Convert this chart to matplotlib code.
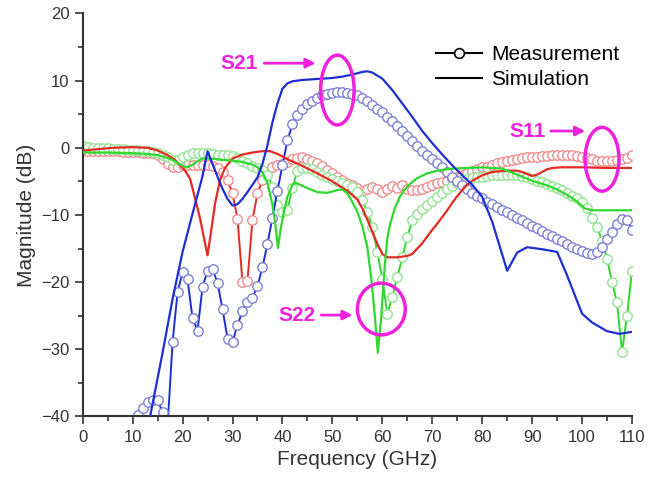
import numpy as np
import matplotlib
matplotlib.use('Agg')
import matplotlib.pyplot as plt
from matplotlib.lines import Line2D
from matplotlib.patches import Ellipse

plt.rcParams['font.family'] = ['Liberation Sans', 'DejaVu Sans']

# measured data, 1 GHz step
meas_freq = np.arange(0, 111)
s21_meas_freq = np.arange(11, 111)

s11_meas = [
    -0.5, -0.5, -0.5, -0.5, -0.5, -0.5, -0.5, -0.5, -0.6, -0.6,
    -0.6, -0.6, -0.7, -0.7, -0.8, -1.0, -1.7, -2.4, -2.8, -2.9,
    -2.6, -2.5, -2.6, -2.6, -2.6, -2.6, -2.7, -3.0, -3.6, -4.8,
    -6.8, -10.6, -20.0, -19.8, -10.7, -6.8, -4.8, -3.6, -2.8, -2.5,
    -2.4, -2.1, -1.7, -1.5, -1.4, -1.6, -1.9, -2.3, -2.7, -3.3,
    -3.8, -4.3, -4.8, -5.2, -5.6, -6.0, -6.5, -6.2, -5.8, -6.1,
    -6.6, -6.2, -5.7, -6.0, -5.6, -6.1, -6.3, -6.3, -6.1, -5.8,
    -5.5, -5.3, -5.1, -4.9, -4.6, -4.3, -4.0, -3.7, -3.4, -3.2,
    -2.9, -2.8, -2.5, -2.3, -2.1, -1.9, -1.8, -1.7, -1.5, -1.4,
    -1.3, -1.3, -1.2, -1.2, -1.1, -1.1, -1.0, -1.0, -1.1, -1.2,
    -1.3, -1.5, -1.7, -1.9, -2.0, -1.9, -1.9, -1.8, -1.7, -1.5,
    -1.1]

s22_meas = [
    0.2, 0.1, 0.0, 0.0, -0.1, -0.1, -0.2, -0.2, -0.2, -0.3,
    -0.3, -0.3, -0.4, -0.5, -0.6, -0.8, -1.0, -1.4, -1.8, -1.8,
    -1.4, -1.0, -0.8, -0.7, -0.7, -0.8, -0.9, -1.0, -1.0, -1.1,
    -1.2, -1.5, -1.9, -2.3, -2.7, -3.0, -3.3, -4.0, -5.8, -8.5,
    -9.5, -9.2, -6.0, -3.4, -3.0, -3.0, -3.2, -3.6, -4.0, -4.3,
    -4.6, -4.9, -5.2, -5.5, -5.9, -6.6, -7.8, -9.6, -11.8, -15.5,
    -19.5, -24.7, -22.2, -19.3, -16.3, -13.3, -10.8, -9.8, -9.1, -8.5,
    -7.9, -7.3, -6.8, -6.2, -5.7, -5.3, -4.9, -4.7, -4.5, -4.4,
    -4.3, -4.2, -4.1, -4.1, -4.0, -4.0, -4.0, -4.1, -4.2, -4.4,
    -4.6, -4.9, -5.1, -5.4, -5.7, -6.0, -6.3, -6.7, -7.1, -7.5,
    -8.1, -9.0, -10.4, -11.8, -13.8, -16.5, -20.0, -23.0, -30.4, -25.0,
    -18.3]

s21_meas = [
    -39.8, -38.7, -37.9, -37.5, -37.5, -39.4, -41.5, -28.9, -21.5,
    -18.5, -19.6, -25.4, -27.2, -20.7, -18.3, -18.0, -20.1, -24.0, -28.4,
    -28.9, -26.4, -24.3, -23.0, -22.3, -20.6, -17.8, -14.3, -10.4, -6.4,
    -2.6, 1.1, 3.5, 4.9, 5.8, 6.5, 7.0, 7.4, 7.8, 8.0,
    8.2, 8.3, 8.3, 8.2, 8.0, 7.8, 7.4, 6.9, 6.4, 5.8,
    5.3, 4.6, 4.0, 3.3, 2.5, 1.8, 1.0, 0.3, -0.4, -1.0,
    -1.6, -2.2, -2.9, -3.6, -4.3, -5.0, -5.6, -6.2, -6.7, -7.1,
    -7.5, -8.0, -8.4, -8.8, -9.2, -9.6, -10.0, -10.4, -10.8, -11.2,
    -11.6, -12.0, -12.4, -12.8, -13.2, -13.6, -13.9, -14.3, -14.7, -15.0,
    -15.3, -15.6, -15.8, -15.5, -14.7, -13.6, -12.5, -11.4, -10.6, -10.8,
    -12.3]

# simulated data
s21_sim_freq = [13.0, 13.5, 16, 18, 20, 22, 24, 25, 26, 27, 28, 29, 30, 31, 32, 33, 34,
                35, 36, 37, 38, 39, 40, 41, 42, 44, 46, 48, 50, 52, 54, 56, 57,
                58, 60, 62, 64, 66, 68, 70, 72, 74, 76, 78, 80, 82, 85, 87, 89,
                92, 95, 97, 100, 102, 105, 107.5, 110]
s21_sim = [-42.0, -40.0, -30.5, -22.5, -15.5, -9.8, -4.2, -0.5, -2.4, -4.3, -6.1, -7.6, -8.6,
           -8.4, -7.6, -6.6, -5.5, -4.4, -2.4, 0.4, 3.8, 6.6, 8.8, 9.6, 9.9,
           10.1, 10.2, 10.3, 10.4, 10.6, 10.9, 11.3, 11.4, 11.2, 10.3, 8.6, 6.6,
           4.6, 2.5, 0.7, -1.0, -2.6, -4.1, -5.5, -7.3, -11.0, -18.3, -15.6,
           -14.8, -15.1, -15.5, -19.0, -24.7, -26.0, -27.3, -27.7, -27.4]

s11_sim_freq = [0, 3, 6, 10, 13, 15, 17, 18.5, 19.5, 20.5, 21.5, 22.5, 23.5, 24.3, 25,
                25.7, 26.5, 27.5, 28.5, 30, 32, 34, 36, 37.5, 39, 41, 44, 47, 50,
                53, 55, 56, 57, 58, 59, 60, 61, 63, 65, 66, 67, 68, 69, 70, 71,
                72, 73, 74, 75, 76, 77, 78, 80, 82, 85, 87, 88, 89, 90, 91, 92,
                93, 94, 96, 100, 105, 110]
s11_sim = [-0.4, -0.2, 0.0, 0.1, 0.0, -0.4, -1.1, -1.8, -2.6, -3.4, -4.6, -7.5, -10.5,
           -13.5, -16.0, -12.5, -8.3, -4.8, -3.0, -1.6, -1.0, -0.7, -0.5, -0.5,
           -0.9, -1.7, -2.7, -3.8, -5.0, -6.4, -7.7, -9.0, -10.7, -12.5, -14.3,
           -15.8, -16.3, -16.3, -16.1, -15.8, -15.0, -14.2, -13.2, -12.2, -11.3,
           -10.3, -9.3, -8.2, -7.2, -6.3, -5.5, -4.9, -4.1, -3.6, -3.4, -3.4,
           -3.6, -3.9, -4.2, -4.0, -3.6, -3.2, -3.0, -2.9, -2.9, -3.0, -3.0]

s22_sim_freq = [0, 5, 10, 13, 15, 17, 18.5, 20, 21, 22, 23, 24, 26, 28, 30, 32, 34,
                35, 36, 37, 38, 38.6, 39.1, 39.6, 40.3, 41, 42, 42.6, 43.5, 45, 47,
                49, 51, 52, 53, 53.8, 55, 56, 57, 57.8, 58.5, 59.1, 59.8, 60.5,
                61, 61.5, 62.5, 63.5, 64.5, 65.5, 67, 69, 71, 74, 80, 84, 87, 90,
                93, 95, 97, 99, 100.5, 102, 105, 110]
s22_sim = [-0.7, -0.7, -0.8, -0.9, -1.1, -1.5, -2.0, -2.7, -2.9, -2.5, -2.0, -1.6,
           -1.6, -1.8, -1.9, -2.1, -2.5, -2.9, -3.6, -5.2, -8.5, -11.5, -14.9,
           -12.3, -9.5, -7.3, -5.5, -5.2, -5.5, -6.0, -6.6, -6.7, -6.3, -6.2,
           -6.8, -7.8, -9.5, -11.7, -14.8, -19.5, -25.0, -30.5, -25.0, -17.5,
           -13.5, -11.5, -9.0, -7.3, -6.2, -5.4, -4.5, -3.8, -3.4, -3.1, -2.9,
           -3.1, -4.0, -4.9, -5.6, -6.2, -7.0, -8.0, -9.0, -9.3, -9.3, -9.3]

blue, red, green = '#1e2fd2', '#e42a22', '#2fd82f'
blue_m, red_m, green_m = '#7f7fd6', '#ee8f8f', '#93e493'
magenta = '#ee22dd'

fig = plt.figure(figsize=(6.69, 4.78), dpi=100)
ax = fig.add_axes([0.1236, 0.1287, 0.8211, 0.8431])

mk = dict(marker='o', markersize=6.8, markerfacecolor='white', markeredgewidth=1.0,
          linewidth=1.4, zorder=2)
ax.plot(meas_freq, s11_meas, color=red, markeredgecolor=red_m, **mk)
ax.plot(meas_freq, s22_meas, color=green, markeredgecolor=green_m, **mk)
ax.plot(s21_meas_freq, s21_meas, color=blue, markeredgecolor=blue_m, **mk)

ax.plot(s11_sim_freq, s11_sim, color=red, linewidth=1.6, zorder=3)
ax.plot(s22_sim_freq, s22_sim, color=green, linewidth=1.6, zorder=3)
ax.plot(s21_sim_freq, s21_sim, color=blue, linewidth=1.6, zorder=3)

# labels, arrows and ellipses marking each parameter
ax.text(31.3, 12.6, 'S21', color=magenta, fontsize=15, fontweight='bold',
        ha='center', va='center')
ax.annotate('', xy=(47.2, 12.6), xytext=(35.8, 12.6),
            arrowprops=dict(arrowstyle='-|>', color=magenta, lw=2, mutation_scale=14))
ax.add_patch(Ellipse((51.0, 8.6), 6.7, 10.4, fill=False, edgecolor=magenta, lw=2.5, zorder=4))

ax.text(89.0, 2.5, 'S11', color=magenta, fontsize=15, fontweight='bold',
        ha='center', va='center')
ax.annotate('', xy=(101.2, 2.5), xytext=(93.2, 2.5),
            arrowprops=dict(arrowstyle='-|>', color=magenta, lw=2, mutation_scale=14))
ax.add_patch(Ellipse((104.0, -1.7), 6.8, 9.5, fill=False, edgecolor=magenta, lw=2.5, zorder=4))

ax.text(42.9, -24.9, 'S22', color=magenta, fontsize=15, fontweight='bold',
        ha='center', va='center')
ax.annotate('', xy=(54.6, -24.9), xytext=(47.2, -24.9),
            arrowprops=dict(arrowstyle='-|>', color=magenta, lw=2, mutation_scale=14))
ax.add_patch(Ellipse((59.8, -24.0), 9.6, 7.7, fill=False, edgecolor=magenta, lw=2.5, zorder=4))

handles = [Line2D([], [], color='black', lw=1.5, marker='o', markersize=7,
                  markerfacecolor='white', markeredgewidth=1.2),
           Line2D([], [], color='black', lw=1.5)]
ax.legend(handles, ['Measurement', 'Simulation'], loc='upper left',
          bbox_to_anchor=(0.643, 0.922), frameon=False, fontsize=15,
          handlelength=2.2, handletextpad=0.45, borderpad=0, borderaxespad=0,
          labelspacing=0.3)

ax.set_xlim(0, 110)
ax.set_ylim(-40, 20)
ax.set_xticks(np.arange(0, 111, 10))
ax.set_xticks(np.arange(5, 110, 10), minor=True)
ax.set_yticks(np.arange(-40, 21, 10))
ax.set_yticks(np.arange(-35, 20, 10), minor=True)
ax.tick_params(which='major', direction='out', length=6, width=1.2, labelsize=12,
               colors='#333333')
ax.tick_params(which='minor', direction='out', length=3.5, width=1.2, colors='#333333')
for side in ['top', 'right']:
    ax.spines[side].set_visible(False)
for side in ['left', 'bottom']:
    ax.spines[side].set_linewidth(1.5)
    ax.spines[side].set_color('#333333')

ax.set_xlabel('Frequency (GHz)', fontsize=15, color='#333333', labelpad=4)
ax.set_ylabel('Magnitude (dB)', fontsize=15, color='#333333', labelpad=4)

fig.savefig('out.png', dpi=100)
